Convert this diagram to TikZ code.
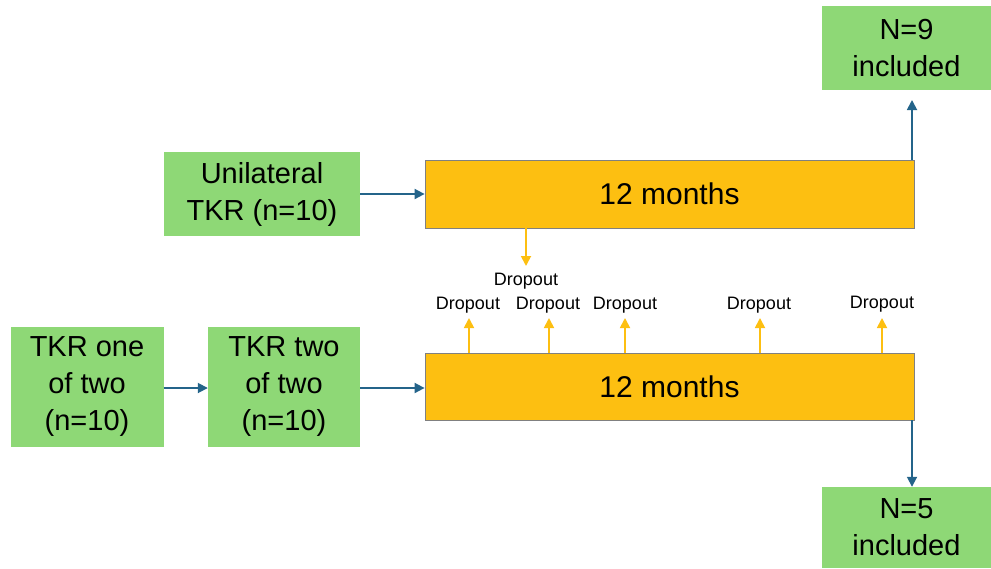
\documentclass[tikz,border=0pt]{standalone}
\usepackage{fontspec}
\setmainfont{Liberation Sans}
\usetikzlibrary{arrows.meta}
\definecolor{boxgreen}{RGB}{142,216,118}
\definecolor{boxorange}{RGB}{253,191,17}
\definecolor{arrblue}{RGB}{36,100,138}
\definecolor{arrorange}{RGB}{253,191,17}
\begin{document}
\begin{tikzpicture}[x=1pt,y=-1pt,
  greenbox/.style={fill=boxgreen,draw=none,align=center,inner sep=0pt,font=\fontsize{29}{37}\selectfont},
  orangebox/.style={fill=boxorange,draw=black!50,line width=0.8pt,inner sep=0pt,font=\fontsize{30}{34}\selectfont},
  bluearrow/.style={draw=arrblue,line width=1.8pt,-{Triangle[length=10pt,width=10pt]}},
  droparrow/.style={draw=arrorange,line width=1.8pt,-{Triangle[length=10pt,width=10pt]}},
  droplabel/.style={font=\fontsize{18}{20}\selectfont,inner sep=0pt}]
\useasboundingbox (0,0) rectangle (991,568);
% green boxes
\node[greenbox,minimum width=169pt,minimum height=84pt] (n9) at (906.5,48) {N=9\\included};
\node[greenbox,minimum width=196pt,minimum height=84pt] (uni) at (262,194) {Unilateral\\TKR (n=10)};
\node[greenbox,minimum width=153pt,minimum height=120pt] (one) at (87,387) {TKR one\\of two\\(n=10)};
\node[greenbox,minimum width=152pt,minimum height=120pt] (two) at (284,387) {TKR two\\of two\\(n=10)};
\node[greenbox,minimum width=169pt,minimum height=81pt] (n5) at (906.5,527.5) {N=5\\included};
% orange boxes
\node[orangebox,minimum width=489pt,minimum height=68pt] (top) at (669.5,194) {12 months};
\node[orangebox,minimum width=489pt,minimum height=67pt] (bot) at (669.5,386.5) {12 months};
% blue connectors
\draw[bluearrow] (uni.east) -- (top.west);
\draw[bluearrow] (one.east |- 0,388) -- (two.west |- 0,388);
\draw[bluearrow] (two.east |- 0,388) -- (bot.west |- 0,388);
\coordinate (topout) at (912,100);
\draw[bluearrow] (top.north -| topout) -- (topout);
\draw[bluearrow] (bot.south -| topout) -- (n5.north -| topout);
% dropout labels
\node[droplabel] (d0) at (526,281) {Dropout};
\node[droplabel] (d1) at (468,305) {Dropout};
\node[droplabel] (d2) at (548,305) {Dropout};
\node[droplabel] (d3) at (625,305) {Dropout};
\node[droplabel] (d4) at (759,305) {Dropout};
\node[droplabel] (d5) at (882,304) {Dropout};
% dropout arrows
\coordinate (d0t) at (526,266);
\draw[droparrow] (top.south -| d0t) -- (d0t);
\foreach \i/\x in {1/469,2/549,3/625,4/760,5/882}{
  \coordinate (a\i) at (\x,318);
  \draw[droparrow] (bot.north -| a\i) -- (a\i);
}
\end{tikzpicture}
\end{document}
